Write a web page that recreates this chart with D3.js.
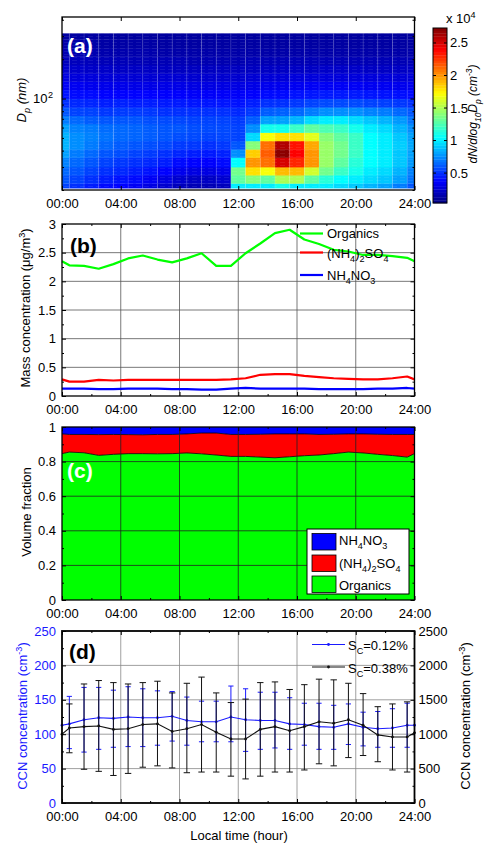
<!DOCTYPE html>
<html lang='en'>
<head>
<meta charset='utf8'>
<title>Diurnal aerosol</title>
<script type="text/javascript" src="https://cdn.jsdelivr.net/npm/d3@7"></script>
<style>
body { margin: 0; background: #fff; }
svg text { font-family: 'Liberation Sans', Arial, sans-serif; font-size: 13px; }
</style>
</head>
<body>
<svg id='fig' width='484' height='844'></svg>
<script type="text/javascript">
// ---- data ----
var hours = [0, 0.5, 1.5, 2.5, 3.5, 4.5, 5.5, 6.5, 7.5, 8.5, 9.5, 10.5, 11.5, 12.5,
    13.5, 14.5, 15.5, 16.5, 17.5, 18.5, 19.5, 20.5, 21.5, 22.5, 23.5, 24];
var hourTicks = [0, 4, 8, 12, 16, 20, 24];
var hourMinor = [2, 6, 10, 14, 18, 22];

// (a) size distribution, dN/dlogDp in 1e4 cm-3; one column per hour 0..24, rows by diameter bin
var dpEdges = [20.7, 22.5, 26, 30, 35.5, 41, 47.5, 55, 64, 74, 86, 100, 117, 135, 156, 181, 210, 243, 283, 315];
var nsd = [
    [0.55,0.60,0.65,0.72,0.80,0.85,0.85,0.80,0.70,0.60,0.50,0.42,0.35,0.30,0.25,0.20,0.17,0.15,0.13],
    [0.50,0.55,0.60,0.65,0.70,0.75,0.75,0.72,0.65,0.55,0.48,0.40,0.34,0.28,0.24,0.20,0.17,0.15,0.13],
    [0.45,0.50,0.55,0.60,0.65,0.70,0.72,0.70,0.62,0.55,0.47,0.40,0.33,0.28,0.23,0.20,0.17,0.15,0.13],
    [0.40,0.45,0.50,0.55,0.60,0.65,0.68,0.66,0.60,0.52,0.45,0.38,0.32,0.27,0.23,0.19,0.16,0.14,0.12],
    [0.38,0.42,0.48,0.52,0.58,0.62,0.65,0.65,0.60,0.53,0.46,0.38,0.32,0.27,0.22,0.19,0.16,0.14,0.12],
    [0.35,0.40,0.45,0.50,0.55,0.60,0.64,0.64,0.60,0.53,0.45,0.38,0.31,0.26,0.22,0.18,0.16,0.14,0.12],
    [0.30,0.35,0.42,0.48,0.53,0.58,0.62,0.62,0.58,0.52,0.45,0.38,0.31,0.26,0.22,0.18,0.16,0.14,0.12],
    [0.25,0.30,0.38,0.45,0.50,0.56,0.60,0.60,0.57,0.50,0.44,0.37,0.31,0.26,0.21,0.18,0.15,0.13,0.12],
    [0.20,0.25,0.33,0.40,0.47,0.53,0.58,0.60,0.56,0.50,0.44,0.37,0.31,0.26,0.21,0.18,0.15,0.13,0.12],
    [0.18,0.22,0.30,0.38,0.45,0.52,0.57,0.58,0.55,0.50,0.43,0.36,0.30,0.25,0.21,0.17,0.15,0.13,0.12],
    [0.18,0.22,0.30,0.37,0.44,0.50,0.55,0.57,0.55,0.50,0.43,0.36,0.30,0.25,0.21,0.17,0.15,0.13,0.12],
    [0.20,0.25,0.32,0.40,0.46,0.52,0.56,0.57,0.55,0.50,0.43,0.36,0.30,0.25,0.21,0.17,0.15,0.13,0.12],
    [1.00,1.30,1.35,1.05,0.75,0.60,0.55,0.55,0.53,0.48,0.42,0.36,0.30,0.25,0.21,0.17,0.15,0.13,0.12],
    [1.00,1.40,1.80,2.00,1.85,1.40,0.95,0.75,0.62,0.52,0.45,0.37,0.31,0.26,0.21,0.18,0.15,0.13,0.12],
    [1.00,1.30,1.70,2.10,2.15,2.10,1.70,1.10,0.80,0.62,0.50,0.40,0.33,0.27,0.22,0.18,0.15,0.13,0.12],
    [1.10,1.50,1.90,2.50,2.70,2.60,1.80,1.10,0.80,0.63,0.50,0.40,0.33,0.27,0.22,0.18,0.15,0.13,0.12],
    [1.00,1.50,1.90,2.30,2.40,2.35,1.80,1.20,0.85,0.65,0.52,0.42,0.34,0.28,0.22,0.18,0.15,0.13,0.12],
    [1.00,1.30,1.60,2.00,2.00,1.95,1.65,1.30,0.95,0.70,0.55,0.43,0.35,0.28,0.22,0.18,0.15,0.13,0.12],
    [1.00,1.15,1.35,1.45,1.45,1.45,1.40,1.25,1.00,0.75,0.57,0.44,0.35,0.28,0.23,0.18,0.15,0.13,0.12],
    [0.95,1.05,1.20,1.30,1.35,1.35,1.30,1.20,1.00,0.75,0.57,0.44,0.35,0.28,0.23,0.18,0.15,0.13,0.12],
    [0.90,1.00,1.10,1.15,1.20,1.20,1.20,1.10,0.95,0.75,0.57,0.44,0.35,0.28,0.23,0.18,0.15,0.13,0.12],
    [0.85,0.95,1.00,1.05,1.05,1.05,1.05,1.00,0.90,0.72,0.55,0.43,0.34,0.28,0.22,0.18,0.15,0.13,0.12],
    [0.80,0.90,0.95,1.00,1.00,1.00,1.00,0.95,0.85,0.70,0.54,0.42,0.34,0.28,0.22,0.18,0.15,0.13,0.12],
    [0.70,0.80,0.85,0.90,0.90,0.92,0.90,0.85,0.78,0.65,0.52,0.41,0.33,0.27,0.22,0.18,0.15,0.13,0.12],
    [0.60,0.68,0.72,0.78,0.80,0.82,0.80,0.75,0.68,0.60,0.50,0.40,0.33,0.27,0.22,0.18,0.15,0.13,0.12]
];
var cbTicks = [0.5, 1, 1.5, 2, 2.5];

// (b) mass concentration, ug/m3
var organics = [2.35,2.28,2.27,2.22,2.30,2.40,2.45,2.38,2.33,2.40,2.49,2.27,2.27,2.49,
    2.66,2.84,2.90,2.73,2.65,2.55,2.52,2.46,2.46,2.44,2.41,2.35];
var sulfate = [0.29,0.25,0.25,0.28,0.27,0.28,0.28,0.28,0.28,0.28,0.28,0.28,0.29,0.31,
    0.37,0.38,0.38,0.35,0.33,0.31,0.30,0.29,0.29,0.31,0.34,0.29];
var nitrate = [0.13,0.13,0.13,0.12,0.12,0.13,0.13,0.13,0.12,0.12,0.11,0.11,0.13,0.14,
    0.13,0.13,0.13,0.13,0.12,0.12,0.12,0.12,0.13,0.13,0.14,0.13];

// (c) volume fractions
var fracOrg = [0.846,0.855,0.851,0.836,0.842,0.846,0.846,0.845,0.846,0.850,0.845,0.838,0.830,0.830,
    0.826,0.822,0.828,0.834,0.838,0.846,0.855,0.850,0.842,0.835,0.826,0.846];
var fracSulf = [0.114,0.102,0.106,0.120,0.115,0.110,0.109,0.112,0.111,0.110,0.120,0.127,0.127,0.127,
    0.132,0.138,0.132,0.126,0.119,0.112,0.105,0.110,0.116,0.122,0.131,0.111];
var fracNitr = [0.040,0.043,0.043,0.044,0.043,0.044,0.045,0.043,0.043,0.040,0.035,0.035,0.043,0.043,
    0.042,0.040,0.040,0.040,0.043,0.042,0.040,0.040,0.042,0.043,0.043,0.043];

// (d) CCN, mean and error bar ends
var ccnLow = [113,115,121,124,123,125,124,124,126,120,118,118,125,121,120,120,115,114,111,110,115,110,108,109,113,113];
var ccnLowHi = [null,155,168,168,164,169,166,163,162,154,148,148,170,166,161,161,153,145,145,142,144,132,133,137,145,null];
var ccnLowLo = [null,79,74,78,81,82,82,84,90,84,89,89,89,75,78,80,78,84,78,78,85,83,81,81,81,null];
var ccnHigh = [1000,1090,1110,1120,1070,1080,1140,1150,1040,1080,1140,1030,930,930,1070,1110,1050,1110,1180,1160,1210,1130,990,960,960,1020];
var ccnHighHi = [null,1440,1730,1780,1750,1730,1750,1770,1600,1740,1830,1600,1460,1510,1750,1760,1650,1720,1800,1790,1740,1590,1400,1440,1470,null];
var ccnHighLo = [null,730,490,460,400,430,520,540,510,440,450,450,390,350,390,450,450,480,570,540,660,690,600,480,450,null];

// ---- drawing ----
var svg = d3.select('#fig');
var X0 = 62, X1 = 414.5;
var x = d3.scaleLinear().domain([0, 24]).range([X0, X1]);
var fmtHour = function(h) { return (h < 10 ? '0' : '') + h + ':00'; };
var BLUE = '#1a1aff';

var rich = function(t, parts, fs) {
    var shift = 0;
    parts.forEach(function(p) {
        var s = p[1] == 'sub' ? fs * 0.32 : (p[1] == 'sup' ? -fs * 0.42 : 0);
        t.append('tspan')
            .attr('dy', s - shift)
            .style('font-size', (p[1] ? fs * 0.7 : fs) + 'px')
            .text(p[0]);
        shift = s;
    });
    return t;
};

var jet = function(t) {
    t = Math.max(0, Math.min(1, t));
    var c = function(v) { return Math.round(255 * Math.max(0, Math.min(1, v))); };
    return d3.rgb(c(1.5 - Math.abs(4 * t - 3)), c(1.5 - Math.abs(4 * t - 2)), c(1.5 - Math.abs(4 * t - 1))) + '';
};

var grid = function(g, y, top, bottom, yVals, col) {
    g.selectAll(null).data(hourTicks.slice(1, -1)).enter().append('line')
        .attr('x1', function(d) { return x(d); }).attr('x2', function(d) { return x(d); })
        .attr('y1', top).attr('y2', bottom)
        .attr('stroke', col).attr('stroke-width', 0.8);
    g.selectAll(null).data(yVals).enter().append('line')
        .attr('x1', X0).attr('x2', X1)
        .attr('y1', function(d) { return y(d); }).attr('y2', function(d) { return y(d); })
        .attr('stroke', col).attr('stroke-width', 0.8);
};

var frame = function(y, top, bottom, yMajor, yMinor, yFmt, xMinor, lw) {
    var g = svg.append('g');
    var addAx = function(axis, tr) {
        var a = g.append('g').attr('transform', tr).call(axis);
        a.select('.domain').remove();
        return a;
    };
    addAx(d3.axisBottom(x).tickValues(hourTicks).tickSize(-4).tickPadding(8.5).tickFormat(fmtHour),
        'translate(0,' + bottom + ')');
    addAx(d3.axisTop(x).tickValues(hourTicks).tickSize(-4).tickFormat(''), 'translate(0,' + top + ')');
    if (xMinor) {
        addAx(d3.axisBottom(x).tickValues(hourMinor).tickSize(-2).tickFormat(''), 'translate(0,' + bottom + ')');
        addAx(d3.axisTop(x).tickValues(hourMinor).tickSize(-2).tickFormat(''), 'translate(0,' + top + ')');
    }
    var left = addAx(d3.axisLeft(y).tickValues(yMajor).tickSize(-4).tickPadding(6).tickFormat(yFmt),
        'translate(' + X0 + ',0)');
    addAx(d3.axisRight(y).tickValues(yMajor).tickSize(-4).tickFormat(''), 'translate(' + X1 + ',0)');
    addAx(d3.axisLeft(y).tickValues(yMinor).tickSize(-2).tickFormat(''), 'translate(' + X0 + ',0)');
    addAx(d3.axisRight(y).tickValues(yMinor).tickSize(-2).tickFormat(''), 'translate(' + X1 + ',0)');
    g.append('rect').attr('x', X0).attr('y', top).attr('width', X1 - X0).attr('height', bottom - top)
        .attr('fill', 'none').attr('stroke', '#000').attr('stroke-width', lw || 1.3);
    g.selectAll('.tick line').attr('stroke', '#000');
    return { g: g, left: left };
};

var panelLabel = function(txt, px, py, col) {
    svg.append('text').attr('x', px).attr('y', py).text(txt)
        .style('font-size', '21px').style('font-weight', 'bold').attr('fill', col);
};

var yTitle = function(px, py, parts, col, italic, fs) {
    var t = svg.append('text').attr('transform', 'translate(' + px + ',' + py + ') rotate(-90)')
        .attr('text-anchor', 'middle').attr('fill', col || '#000');
    if (italic) t.style('font-style', 'italic');
    rich(t, parts, fs || 13);
};

// ===== (a) =====
var aTop = 17, aBot = 190;
var ya = d3.scaleLog().domain([20, 420]).range([aBot, aTop]);
var cMin = 0.04, cMax = 2.73;
var gA = svg.append('g');
nsd.forEach(function(col, i) {
    gA.selectAll(null).data(col).enter().append('rect')
        .attr('x', x(hours[i]))
        .attr('width', x(hours[i + 1]) - x(hours[i]))
        .attr('y', function(d, j) { return ya(dpEdges[j + 1]); })
        .attr('height', function(d, j) { return ya(dpEdges[j]) - ya(dpEdges[j + 1]) + 0.4; })
        .attr('fill', function(d) { return jet((d - cMin) / (cMax - cMin)); });
});
// mesh look: faint row and column lines
var defs = svg.append('defs');
var pat = defs.append('pattern').attr('id', 'rows').attr('patternUnits', 'userSpaceOnUse')
    .attr('width', 8).attr('height', 3);
pat.append('rect').attr('x', 0).attr('y', 0).attr('width', 5).attr('height', 0.7)
    .attr('fill', '#fff').attr('fill-opacity', 0.1);
gA.append('rect').attr('x', X0).attr('y', ya(dpEdges[dpEdges.length - 1]))
    .attr('width', X1 - X0).attr('height', ya(dpEdges[0]) - ya(dpEdges[dpEdges.length - 1]))
    .attr('fill', 'url(#rows)');
gA.selectAll(null).data(hours.slice(1, -1)).enter().append('line')
    .attr('x1', function(d) { return x(d); }).attr('x2', function(d) { return x(d); })
    .attr('y1', ya(dpEdges[dpEdges.length - 1])).attr('y2', ya(dpEdges[0]))
    .attr('stroke', '#fff').attr('stroke-opacity', 0.15).attr('stroke-width', 0.8);

frame(ya, aTop, aBot, [100], [20, 30, 40, 50, 60, 70, 80, 90, 200, 300, 400], function() { return ''; }, false);
rich(svg.append('text').attr('x', 47.5).attr('y', ya(100) + 4.5).attr('text-anchor', 'end'), [['10']], 13);
rich(svg.append('text').attr('x', 48).attr('y', ya(100) + 4.5), [['2', 'sup']], 13);
panelLabel('(a)', 67, 53, '#fff');
yTitle(26, 100, [['D'], ['p', 'sub'], [' (nm)']], '#000', true);

// colorbar
var cbX = 433, cbW = 14;
var yc = d3.scaleLinear().domain([cMin, cMax]).range([203, 28]);
var cbSteps = d3.range(64);
svg.append('g').selectAll('rect').data(cbSteps).enter().append('rect')
    .attr('x', cbX).attr('width', cbW)
    .attr('y', function(d) { return yc(cMin + (d + 1) / 64 * (cMax - cMin)); })
    .attr('height', function(d) { return yc(cMin) - yc(cMin + 1 / 64 * (cMax - cMin)) + 0.3; })
    .attr('fill', function(d) { return jet((d + 0.5) / 64); });
svg.append('rect').attr('x', cbX).attr('y', 28).attr('width', cbW).attr('height', 175)
    .attr('fill', 'none').attr('stroke', '#000').attr('stroke-width', 1);
svg.append('g').selectAll('line').data(cbTicks.concat(cbTicks)).enter().append('line')
    .attr('x1', function(d, i) { return i < 5 ? cbX : cbX + cbW; })
    .attr('x2', function(d, i) { return i < 5 ? cbX + 3 : cbX + cbW - 3; })
    .attr('y1', function(d) { return yc(d); }).attr('y2', function(d) { return yc(d); })
    .attr('stroke', '#000');
svg.append('g').selectAll('text').data(cbTicks).enter().append('text')
    .attr('x', 450).attr('y', function(d) { return yc(d) + 4.5; })
    .text(function(d) { return d; });
rich(svg.append('text').attr('x', 446).attr('y', 23), [['x 10'], ['4', 'sup']], 13);
yTitle(477, 114, [['dN/dlog'], ['10', 'sub'], ['D'], ['p', 'sub'], [' (cm'], ['-3', 'sup'], [')']], '#000', true, 12);

// ===== (b) =====
var bTop = 224, bBot = 396;
var yb = d3.scaleLinear().domain([0, 3]).range([bBot, bTop]);
var gB = svg.append('g');
grid(gB, yb, bTop, bBot, [0.5, 1, 1.5, 2, 2.5], '#555');
var lineB = function(vals) {
    return d3.line().x(function(d, i) { return x(hours[i]); }).y(function(d) { return yb(d); })(vals);
};
var massSeries = [[organics, '#00ff00'], [sulfate, '#ff0000'], [nitrate, '#0000ff']];
massSeries.forEach(function(s) {
    gB.append('path').attr('d', lineB(s[0])).attr('fill', 'none')
        .attr('stroke', s[1]).attr('stroke-width', 2.2).attr('stroke-linejoin', 'round');
});
frame(yb, bTop, bBot, [0, 0.5, 1, 1.5, 2, 2.5, 3], [0.25, 0.75, 1.25, 1.75, 2.25, 2.75], d3.format(''), true);
var legB = [
    [233.5, 238, '#00ff00', [['Organics']]],
    [252.5, 257.5, '#ff0000', [['(NH'], ['4', 'sub'], [')'], ['2', 'sub'], ['SO'], ['4', 'sub']]],
    [275, 280, '#0000ff', [['NH'], ['4', 'sub'], ['NO'], ['3', 'sub']]]
];
legB.forEach(function(l) {
    svg.append('line').attr('x1', 300).attr('x2', 323).attr('y1', l[0]).attr('y2', l[0])
        .attr('stroke', l[2]).attr('stroke-width', 2.2);
    rich(svg.append('text').attr('x', 327).attr('y', l[1]), l[3], 13);
});
panelLabel('(b)', 70, 253, '#000');
yTitle(30, 308, [['Mass concentration (\u03bcg/m'], ['3', 'sup'], [')']], '#000');

// ===== (c) =====
var cTop = 427, cBot = 600;
var yv = d3.scaleLinear().domain([0, 1]).range([cBot, cTop]);
var fracRows = hours.map(function(h, i) {
    return { h: h, org: fracOrg[i], sulf: fracSulf[i], nitr: fracNitr[i] };
});
var stack = d3.stack().keys(['org', 'sulf', 'nitr'])(fracRows);
var fracColors = ['#00ff00', '#ff0000', '#0000ff'];
var gC = svg.append('g');
var areaC = d3.area().x(function(d) { return x(d.data.h); })
    .y0(function(d) { return yv(d[0]); }).y1(function(d) { return yv(d[1]); });
gC.selectAll('path.area').data(stack).enter().append('path')
    .attr('d', areaC).attr('fill', function(d, i) { return fracColors[i]; });
gC.selectAll('path.edge').data(stack.slice(0, 2)).enter().append('path')
    .attr('d', d3.line().x(function(d) { return x(d.data.h); }).y(function(d) { return yv(d[1]); }))
    .attr('fill', 'none').attr('stroke', '#000').attr('stroke-width', 0.8);
grid(gC, yv, cTop, cBot, [0.2, 0.4, 0.6, 0.8], '#222');
frame(yv, cTop, cBot, [0, 0.2, 0.4, 0.6, 0.8, 1], [0.1, 0.3, 0.5, 0.7, 0.9], d3.format(''), true);
svg.append('rect').attr('x', 307).attr('y', 529).attr('width', 102).attr('height', 65)
    .attr('fill', '#fff').attr('stroke', '#000').attr('stroke-width', 1);
var legC = [
    [533.5, 545, '#0000ff', [['NH'], ['4', 'sub'], ['NO'], ['3', 'sub']]],
    [555, 567.5, '#ff0000', [['(NH'], ['4', 'sub'], [')'], ['2', 'sub'], ['SO'], ['4', 'sub']]],
    [576, 589.5, '#00ff00', [['Organics']]]
];
legC.forEach(function(l) {
    svg.append('rect').attr('x', 312).attr('y', l[0]).attr('width', 24).attr('height', 16.5)
        .attr('fill', l[2]).attr('stroke', '#000').attr('stroke-width', 0.8);
    rich(svg.append('text').attr('x', 339).attr('y', l[1]), l[3], 13);
});
panelLabel('(c)', 67, 478, '#fff');
yTitle(31, 512, [['Volume fraction']], '#000');

// ===== (d) =====
var dTop = 631, dBot = 803;
var yl = d3.scaleLinear().domain([0, 250]).range([dBot, dTop]);
var yr = d3.scaleLinear().domain([0, 2500]).range([dBot, dTop]);
var gD = svg.append('g');
grid(gD, yl, dTop, dBot, [50, 100, 150, 200], '#888');
var drawCcn = function(vals, hi, lo, y, col, cap) {
    var g = gD.append('g');
    hours.forEach(function(h, i) {
        if (hi[i] == null) return;
        g.append('line').attr('x1', x(h)).attr('x2', x(h)).attr('y1', y(hi[i])).attr('y2', y(lo[i]))
            .attr('stroke', col).attr('stroke-width', 1);
        [hi[i], lo[i]].forEach(function(v) {
            g.append('line').attr('x1', x(h) - cap).attr('x2', x(h) + cap).attr('y1', y(v)).attr('y2', y(v))
                .attr('stroke', col).attr('stroke-width', 1);
        });
    });
    g.append('path')
        .attr('d', d3.line().x(function(d, i) { return x(hours[i]); }).y(function(d) { return y(d); })(vals))
        .attr('fill', 'none').attr('stroke', col).attr('stroke-width', 1.1);
    g.selectAll('circle').data(vals).enter().append('circle')
        .attr('cx', function(d, i) { return x(hours[i]); }).attr('cy', function(d) { return y(d); })
        .attr('r', 1.4).attr('fill', col);
};
drawCcn(ccnLow, ccnLowHi, ccnLowLo, yl, BLUE, 2.6);
drawCcn(ccnHigh, ccnHighHi, ccnHighLo, yr, '#111', 3.2);
var fd = frame(yl, dTop, dBot, [0, 50, 100, 150, 200, 250], [25, 75, 125, 175, 225], d3.format(''), true, 1.8);
fd.left.selectAll('text').attr('fill', BLUE);
var rightAx = fd.g.append('g').attr('transform', 'translate(' + X1 + ',0)')
    .call(d3.axisRight(yr).tickValues([0, 500, 1000, 1500, 2000, 2500]).tickSize(-4).tickPadding(4)
        .tickFormat(d3.format('')));
rightAx.select('.domain').remove();
rightAx.selectAll('line').remove();
var legD = [[644.5, 650, BLUE, '0.12%'], [667, 672.5, '#111', '0.38%']];
legD.forEach(function(l) {
    svg.append('line').attr('x1', 312).attr('x2', 345).attr('y1', l[0]).attr('y2', l[0])
        .attr('stroke', l[2]).attr('stroke-width', 1.1);
    svg.append('circle').attr('cx', 328.5).attr('cy', l[0]).attr('r', 1.4).attr('fill', l[2]);
    rich(svg.append('text').attr('x', 348).attr('y', l[1]), [['S'], ['C', 'sub'], ['=' + l[3]]], 13);
});
panelLabel('(d)', 69, 659, '#000');
yTitle(27, 716, [['CCN concentration (cm'], ['-3', 'sup'], [')']], BLUE);
yTitle(470, 716, [['CCN concentration (cm'], ['-3', 'sup'], [')']], '#000');
svg.append('text').attr('x', 239).attr('y', 840).attr('text-anchor', 'middle').text('Local time (hour)');
</script>
</body>
</html>
